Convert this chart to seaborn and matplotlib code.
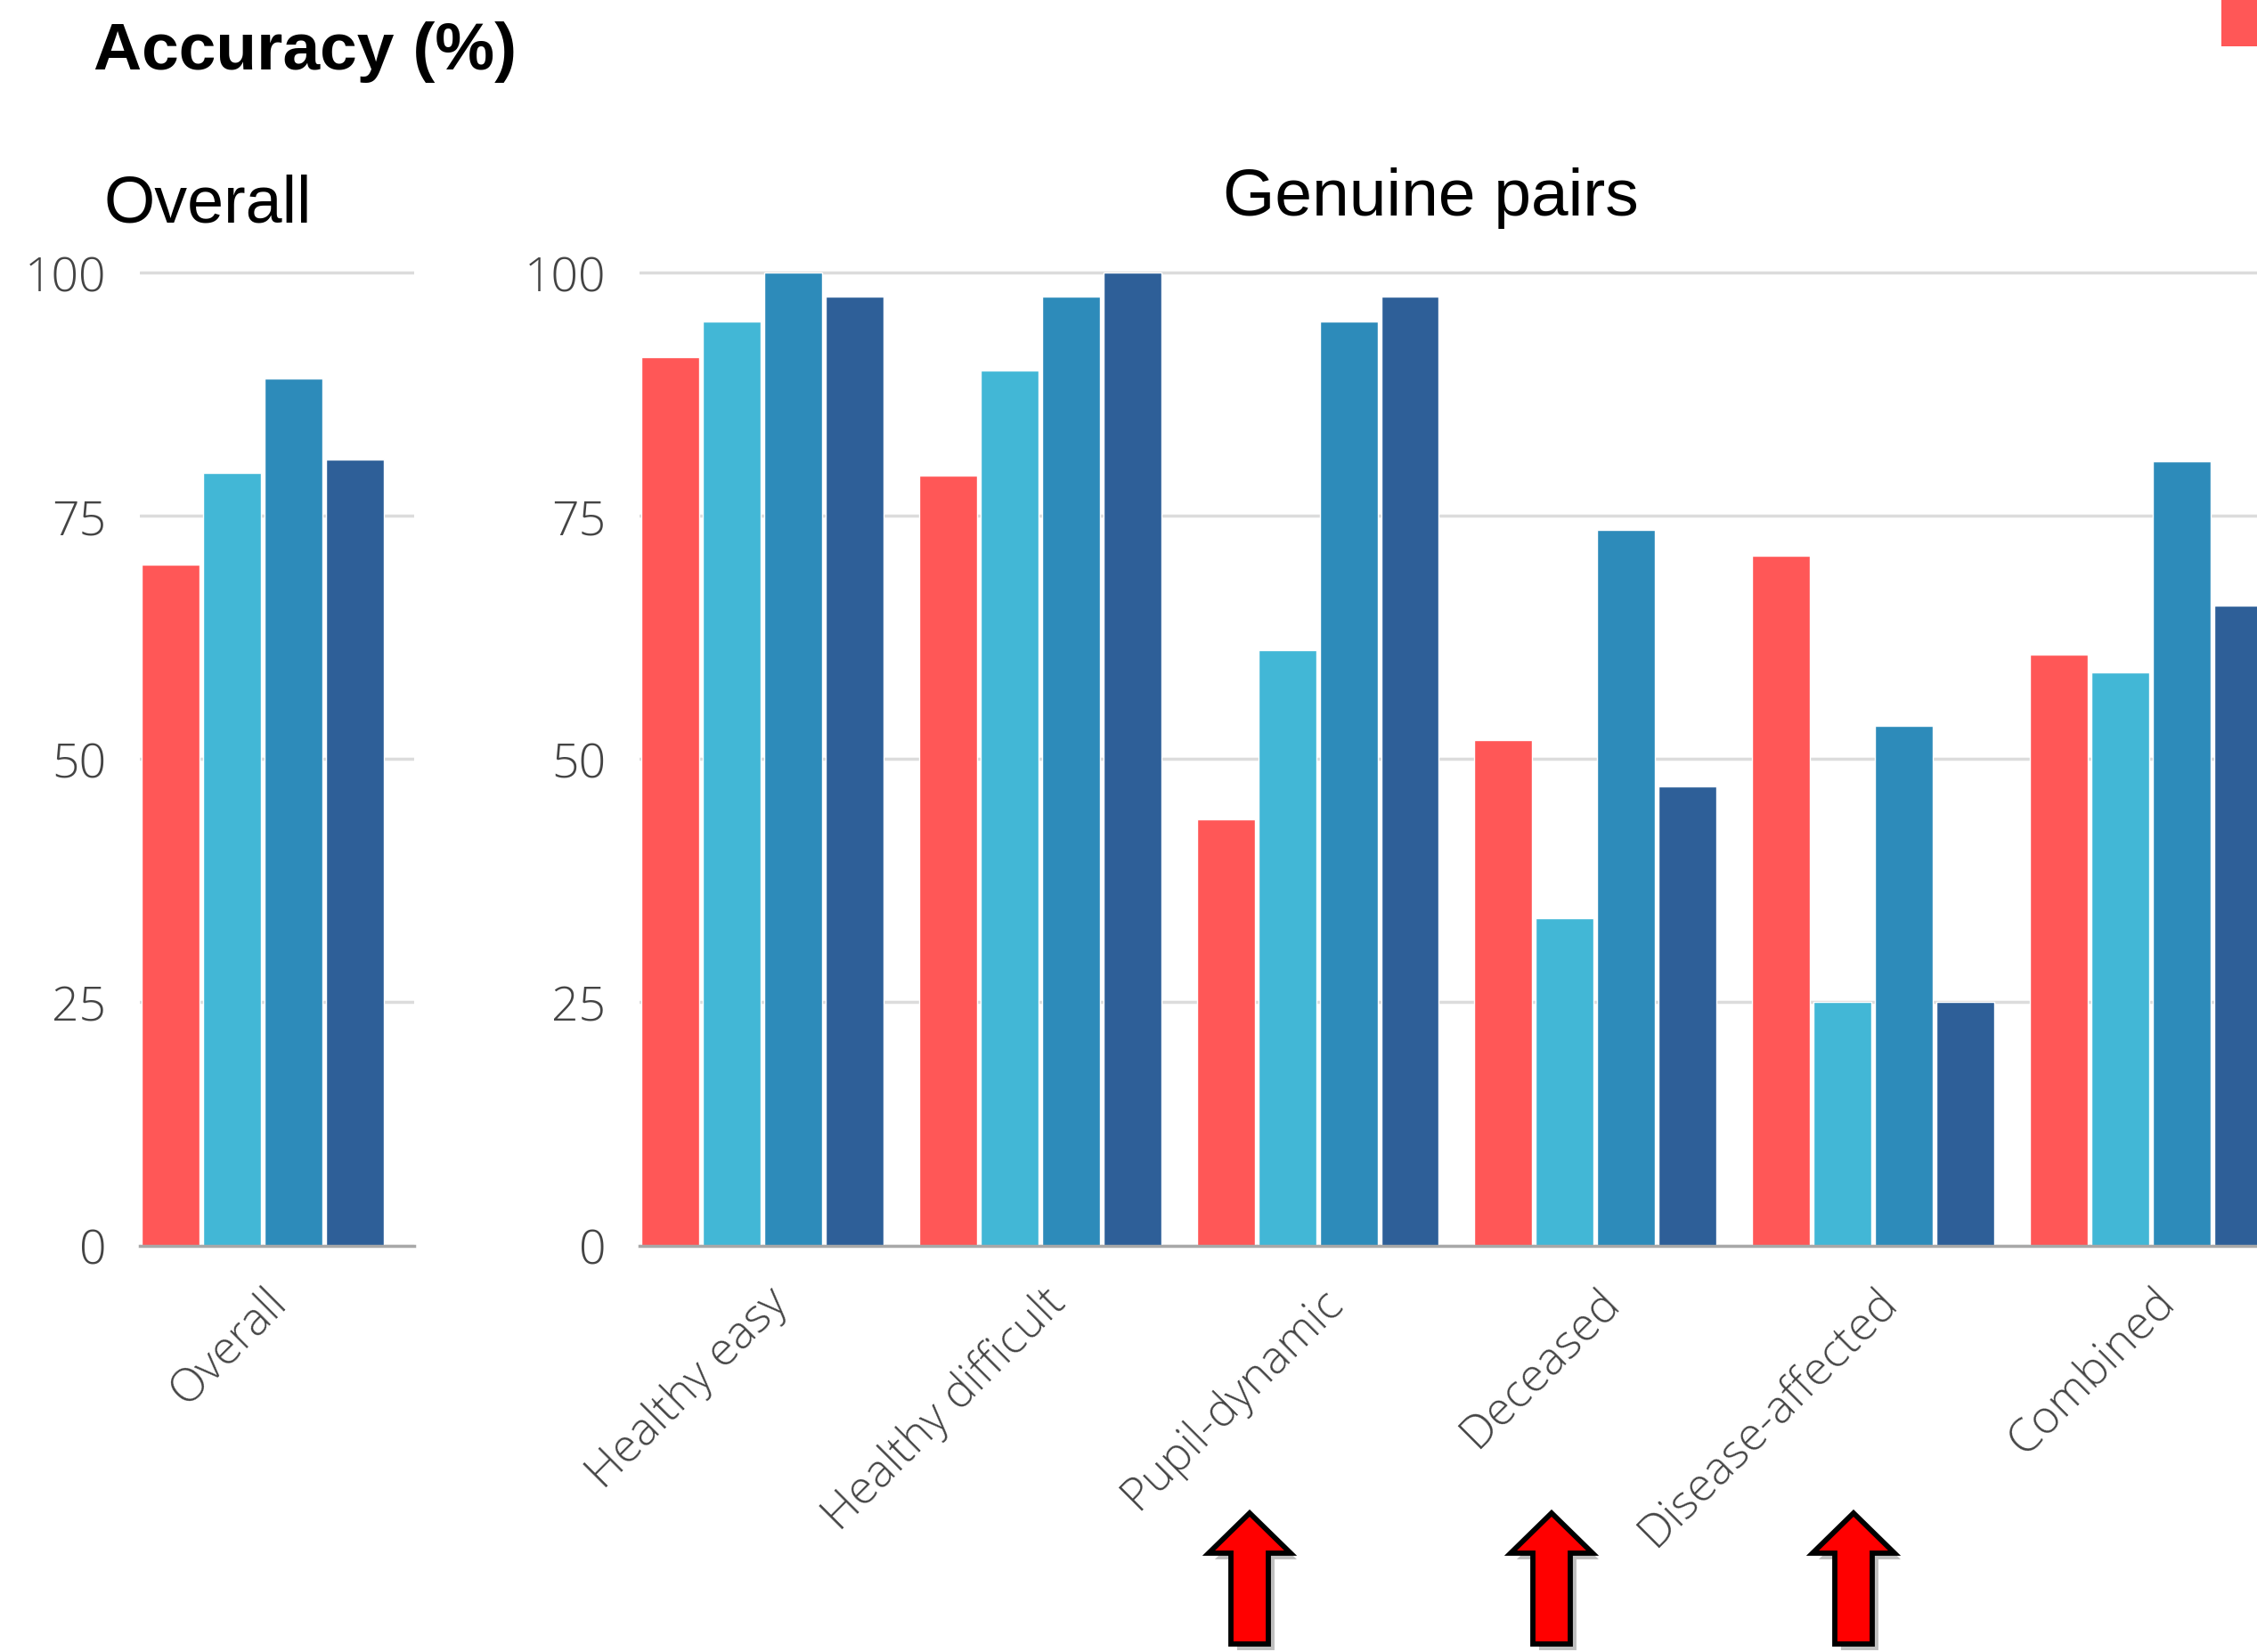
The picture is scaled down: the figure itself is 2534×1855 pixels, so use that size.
import matplotlib
matplotlib.use("Agg")
import matplotlib.pyplot as plt
import matplotlib.patheffects as pe
from matplotlib.patches import Polygon, Rectangle
from matplotlib.transforms import ScaledTranslation
import pandas as pd
import seaborn as sns

# ---- data -------------------------------------------------------------
methods = ["Method 1", "Method 2", "Method 3", "Method 4"]
colors = ["#FF5757", "#42B7D6", "#2D8BBA", "#2E5F98"]

overall_category = ["Overall"]
overall_values = [70.0, 79.4, 89.1, 80.8]

genuine_categories = ["Healthy easy", "Healthy difficult", "Pupil-dynamic",
                      "Deceased", "Disease-affected", "Combined"]
method1 = [91.3, 79.1, 43.8, 51.9, 70.9, 60.7]
method2 = [95.0, 89.9, 61.2, 33.6, 25.0, 58.9]
method3 = [100.0, 97.5, 95.0, 73.5, 53.4, 80.6]
method4 = [97.5, 100.0, 97.5, 47.2, 25.0, 65.8]

yticks = [0, 25, 50, 75, 100]

# ---- tidy tables ------------------------------------------------------
overall_df = pd.DataFrame({
    "group": overall_category * len(methods),
    "method": methods,
    "accuracy": overall_values,
})
rows = []
for m, vals in zip(methods, [method1, method2, method3, method4]):
    for c, v in zip(genuine_categories, vals):
        rows.append({"group": c, "method": m, "accuracy": v})
genuine_df = pd.DataFrame(rows)

# ---- figure -----------------------------------------------------------
sns.set_theme(style="white")
plt.rcParams["font.family"] = ["Open Sans", "DejaVu Sans"]

W, H = 2534, 1856
fig = plt.figure(figsize=(W / 100, H / 100), dpi=100)

ax_top_px, ax_bot_px = 301.5, 1399.5
bottom = 1 - ax_bot_px / H
height = (ax_bot_px - ax_top_px) / H
ax1 = fig.add_axes([156.8 / W, bottom, (465.4 - 156.8) / W, height])
ax2 = fig.add_axes([717.5 / W, bottom, (2555 - 717.5) / W, height])

palette = dict(zip(methods, colors))
bar_kw = dict(x="group", y="accuracy", hue="method", hue_order=methods,
              palette=palette, width=0.885, gap=0.06, saturation=1,
              legend=False, errorbar=None)
sns.barplot(data=overall_df, order=overall_category, ax=ax1, **bar_kw)
sns.barplot(data=genuine_df, order=genuine_categories, ax=ax2, **bar_kw)

ax1.set_xlim(-0.443, 0.547)
ax2.set_xlim(-0.445, 5.45)

tick_color = "#444444"
for ax in (ax1, ax2):
    ax.set_ylim(0, 100.5)
    ax.set_yticks(yticks)
    ax.set_xlabel("")
    ax.set_ylabel("")
    ax.set_axisbelow(True)
    ax.yaxis.grid(True, color="#dcdcdc", linewidth=2.5)
    ax.xaxis.grid(False)
    for s in ("top", "right", "left"):
        ax.spines[s].set_visible(False)
    ax.spines["bottom"].set_color("#a8a8a8")
    ax.spines["bottom"].set_linewidth(2.5)
    ax.tick_params(axis="y", length=0, pad=27, labelsize=38.5, labelcolor=tick_color)
    ax.tick_params(axis="x", length=0, pad=40, labelsize=37.5, labelcolor=tick_color)
    for lab in ax.get_yticklabels():
        lab.set_fontweight("light")
    for lab in ax.get_xticklabels():
        lab.set_rotation(45)
        lab.set_ha("right")
        lab.set_va("center")
        lab.set_rotation_mode("anchor")
        lab.set_fontweight("light")
        lab.set_transform(lab.get_transform() +
                          ScaledTranslation(0.2, 0, fig.dpi_scale_trans))

# ---- titles -----------------------------------------------------------
title_font = ["Liberation Sans", "DejaVu Sans"]
fig.text(105 / W, 1 - 78 / H, "Accuracy (%)", fontsize=54, fontweight="bold",
         family=title_font, ha="left", va="baseline", color="black")
fig.text(116 / W, 1 - 249 / H, "Overall", fontsize=53,
         family=title_font, ha="left", va="baseline", color="black")
fig.text(1606 / W, 1 - 242 / H, "Genuine pairs", fontsize=54,
         family=title_font, ha="center", va="baseline", color="black")

# ---- legend swatch peeking in at the corner ---------------------------
fig.patches.append(Rectangle((2494 / W, 1 - 53 / H), 40 / W, 53 / H,
                             transform=fig.transFigure, color=colors[0],
                             linewidth=0))

# ---- highlight arrows under the harder categories ---------------------
arrow_x_px = [1403, 1742, 2081]
tip_y_px, head_h, head_hw, shaft_hw, bottom_y_px = 1700, 45, 46, 21, 1847
for ax_px in arrow_x_px:
    pts_px = [
        (ax_px, tip_y_px),
        (ax_px + head_hw, tip_y_px + head_h),
        (ax_px + shaft_hw, tip_y_px + head_h),
        (ax_px + shaft_hw, bottom_y_px),
        (ax_px - shaft_hw, bottom_y_px),
        (ax_px - shaft_hw, tip_y_px + head_h),
        (ax_px - head_hw, tip_y_px + head_h),
    ]
    pts = [(x / W, 1 - y / H) for x, y in pts_px]
    arrow = Polygon(pts, closed=True, transform=fig.transFigure,
                    facecolor="#FF0000", edgecolor="black", linewidth=4.2,
                    joinstyle="miter")
    arrow.set_path_effects([
        pe.SimplePatchShadow(offset=(5, -5), shadow_rgbFace="black", alpha=0.25),
        pe.Normal(),
    ])
    fig.patches.append(arrow)

fig.savefig("out.png", dpi=100, facecolor="white")
